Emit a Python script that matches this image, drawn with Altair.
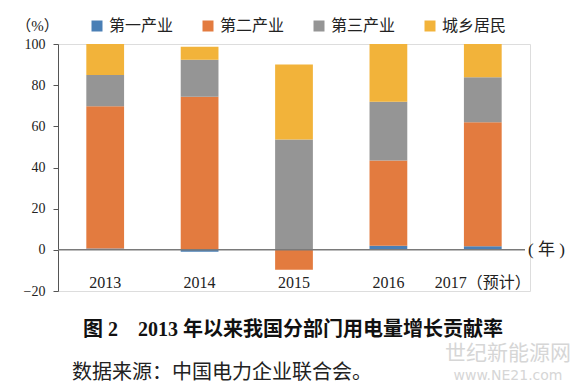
import altair as alt
import pandas as pd

years = ["2013", "2014", "2015", "2016", "2017（预计）"]
sectors = ["第一产业", "第二产业", "第三产业", "城乡居民"]
colors = ["#4a7fb5", "#e37b3f", "#959595", "#f2b33a"]

primary = [0.7, -0.9, 0.3, 2.0, 1.8]
secondary = [69.0, 74.4, -9.7, 41.4, 60.2]
tertiary = [15.3, 18.0, 53.3, 28.6, 21.8]
residents = [15.0, 6.3, 36.4, 28.0, 16.2]

y_ticks = [-20, 0, 20, 40, 60, 80, 100]

caption = "图 2　2013 年以来我国分部门用电量增长贡献率"
source = "数据来源：中国电力企业联合会。"

FONT = "Liberation Serif, Noto Sans CJK SC"

rows = []
for i, (name, vals) in enumerate(zip(sectors, [primary, secondary, tertiary, residents])):
    for y, v in zip(years, vals):
        rows.append({"year": y, "sector": name, "value": v, "idx": i})
df = pd.DataFrame(rows)

W, H = 472, 247

bars = alt.Chart(df).mark_bar().encode(
    x=alt.X("year:N", sort=years,
            scale=alt.Scale(paddingInner=0.6, paddingOuter=0.3),
            axis=alt.Axis(title=None, domain=False, ticks=False, labelAngle=0,
                          offset=-9, labelPadding=0, labelBaseline="middle",
                          labelFont=FONT, labelFontSize=16, labelColor="#222")),
    y=alt.Y("value:Q", stack="zero",
            scale=alt.Scale(domain=[-20, 100], nice=False, zero=False),
            axis=alt.Axis(values=y_ticks, grid=False, tickSize=5, labelPadding=8,
                          domainColor="#555", tickColor="#555", domainWidth=1,
                          labelFont=FONT, labelFontSize=14, labelColor="#222",
                          title="（%）", titleAngle=0, titleX=-21, titleY=-19,
                          titleAlign="center", titleBaseline="middle",
                          titleFont=FONT, titleFontSize=15, titleFontWeight="normal",
                          titleColor="#222")),
    color=alt.Color("sector:N", scale=alt.Scale(domain=sectors, range=colors),
                    legend=alt.Legend(title=None, orient="none", legendX=31, legendY=-26,
                                      direction="horizontal", symbolType="square",
                                      symbolSize=121, symbolStrokeWidth=0,
                                      labelFont=FONT, labelFontSize=16, labelColor="#222",
                                      labelOffset=4, columnPadding=26)),
    order=alt.Order("idx:Q", sort="ascending"),
)

zero = alt.Chart(pd.DataFrame({"v": [0]})).mark_rule(color="#7a7a7a", strokeWidth=1.5).encode(
    y="v:Q", x=alt.value(0), x2=alt.value(467)
)

nian = alt.Chart(pd.DataFrame({"t": ["( 年 )"], "v": [0]})).mark_text(
    align="left", baseline="middle", font=FONT, fontSize=17, color="#222"
).encode(text="t:N", y="v:Q", x=alt.value(470))

cap = alt.Chart(pd.DataFrame({"t": [caption]})).mark_text(
    align="center", baseline="middle", font=FONT, fontSize=20, fontWeight="bold", color="#111"
).encode(text="t:N", x=alt.value(235), y=alt.value(286))

src = alt.Chart(pd.DataFrame({"t": [source]})).mark_text(
    align="left", baseline="middle", font=FONT, fontSize=20, color="#222"
).encode(text="t:N", x=alt.value(14), y=alt.value(329))

wm1 = alt.Chart(pd.DataFrame({"t": ["世纪新能源网"]})).mark_text(
    align="center", baseline="middle", font="Noto Sans CJK SC", fontSize=21, color="#d6d6d6"
).encode(text="t:N", x=alt.value(450), y=alt.value(310))

wm2 = alt.Chart(pd.DataFrame({"t": ["www.NE21.com"]})).mark_text(
    align="center", baseline="middle", font="DejaVu Sans", fontSize=14, color="#d6d6d6"
).encode(text="t:N", x=alt.value(450), y=alt.value(332))

chart = alt.layer(bars, zero, nian, cap, src, wm1, wm2).properties(
    width=W, height=H,
    autosize=alt.AutoSizeParams(type="none"),
    padding={"left": 50, "top": 36, "right": 46, "bottom": 99},
).configure_view(stroke=None).configure(background="white")

chart.save("out.html", embed_options={"renderer": "svg", "actions": False})
